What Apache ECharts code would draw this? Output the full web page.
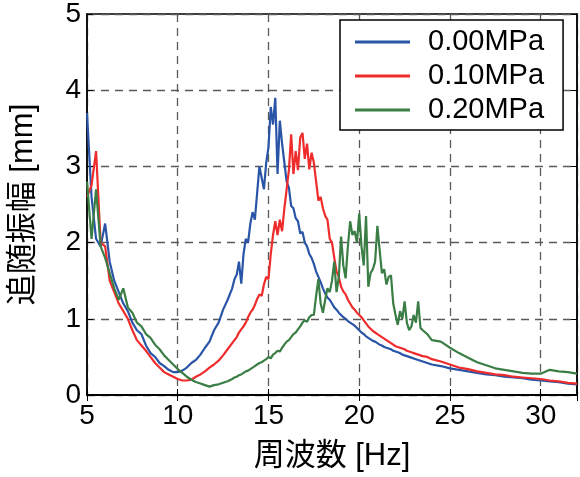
<!DOCTYPE html>
<html>
<head>
<meta charset="utf-8">
<script src="https://cdn.jsdelivr.net/npm/echarts@6/dist/echarts.min.js"></script>
<style>
  html, body { margin: 0; padding: 0; background: #fff; }
  #chart { width: 580px; height: 477px; }
</style>
</head>
<body>
<div id="chart"></div>
<script>
// 周波数 [Hz]
var freq = [
  5.00, 5.25, 5.50, 5.75, 6.00, 6.25, 6.50, 6.75,
  7.00, 7.25, 7.50, 7.75, 8.00, 8.25, 8.50, 8.75,
  9.00, 9.25, 9.50, 9.75, 10.00, 10.25, 10.50, 10.75,
  11.00, 11.25, 11.50, 11.75, 12.00, 12.25, 12.50, 12.75,
  13.000, 13.125, 13.250, 13.375, 13.500, 13.625, 13.750, 13.875,
  14.000, 14.125, 14.250, 14.375, 14.500, 14.625, 14.750, 14.875,
  15.000, 15.125, 15.250, 15.375, 15.500, 15.625, 15.750, 15.875,
  16.000, 16.125, 16.250, 16.375, 16.500, 16.625, 16.750, 16.875,
  17.000, 17.125, 17.250, 17.375, 17.500, 17.625, 17.750, 17.875,
  18.000, 18.125, 18.250, 18.375, 18.500, 18.625, 18.750, 18.875,
  19.000, 19.125, 19.250, 19.375, 19.500, 19.625, 19.750, 19.875,
  20.000, 20.125, 20.250, 20.375, 20.500, 20.625, 20.750, 20.875,
  21.000, 21.125, 21.250, 21.375, 21.500, 21.625, 21.750, 21.875,
  22.000, 22.125, 22.250, 22.375, 22.500, 22.625, 22.750, 22.875,
  23.000, 23.125, 23.250, 23.375, 23.500,
  23.75, 24.00,
  24.5, 25.0, 25.5, 26.0, 26.5, 27.0, 27.5, 28.0,
  28.5, 29.0, 29.5, 30.0, 30.5, 31.0, 31.5, 32.0
]
// 0.00MPa
var amp000 = [
  3.70, 2.60, 2.05, 1.95, 2.25, 1.75, 1.50, 1.35,
  1.20, 1.10, 0.95, 0.85, 0.80, 0.65, 0.55, 0.50,
  0.42, 0.38, 0.33, 0.30, 0.30, 0.32, 0.36, 0.42,
  0.46, 0.53, 0.62, 0.70, 0.85, 0.95, 1.12, 1.25,
  1.40, 1.52, 1.58, 1.75, 1.46, 1.85, 2.05, 2.00,
  2.25, 2.40, 2.30, 2.65, 3.00, 2.85, 2.70, 3.05,
  3.25, 3.78, 3.55, 3.90, 2.90, 3.60, 3.30, 3.05,
  2.80, 2.72, 2.48, 2.45, 2.32, 2.28, 2.12, 2.14,
  2.00, 1.95, 1.85, 1.80, 1.72, 1.62, 1.55, 1.48,
  1.40, 1.33, 1.28, 1.25, 1.20, 1.15, 1.12, 1.08,
  1.05, 1.02, 1.00, 0.97, 0.95, 0.93, 0.91, 0.88,
  0.85, 0.82, 0.80, 0.77, 0.75, 0.73, 0.71, 0.70,
  0.68, 0.66, 0.65, 0.63, 0.62, 0.61, 0.60, 0.58,
  0.57, 0.56, 0.55, 0.53, 0.52, 0.51, 0.50, 0.49,
  0.48, 0.47, 0.46, 0.45, 0.44,
  0.42, 0.40,
  0.38, 0.35, 0.33, 0.31, 0.29, 0.27, 0.26, 0.24,
  0.23, 0.22, 0.20, 0.19, 0.18, 0.17, 0.15, 0.14
]
// 0.10MPa
var amp010 = [
  2.60, 2.75, 3.20, 2.00, 1.95, 1.50, 1.35, 1.20,
  1.10, 1.00, 0.85, 0.72, 0.65, 0.58, 0.50, 0.42,
  0.36, 0.30, 0.27, 0.24, 0.21, 0.19, 0.19, 0.20,
  0.24, 0.27, 0.31, 0.36, 0.40, 0.45, 0.52, 0.60,
  0.68, 0.72, 0.76, 0.82, 0.86, 0.90, 0.95, 1.02,
  1.08, 1.12, 1.18, 1.26, 1.32, 1.30, 1.45, 1.55,
  1.52, 1.85, 2.10, 2.28, 2.10, 2.30, 2.15, 2.45,
  2.70, 2.95, 3.42, 2.90, 3.20, 2.95, 3.38, 3.44,
  3.10, 3.30, 2.96, 3.18, 3.05, 2.80, 2.55, 2.60,
  2.45, 2.35, 2.30, 2.05, 2.00, 1.80, 1.62, 1.55,
  1.42, 1.36, 1.32, 1.25, 1.20, 1.15, 1.12, 1.08,
  1.05, 1.02, 0.98, 0.94, 0.90, 0.87, 0.84, 0.82,
  0.80, 0.78, 0.76, 0.74, 0.72, 0.70, 0.68, 0.66,
  0.64, 0.63, 0.62, 0.61, 0.60, 0.58, 0.57, 0.56,
  0.55, 0.54, 0.53, 0.52, 0.51,
  0.50, 0.47,
  0.44, 0.40, 0.36, 0.34, 0.31, 0.29, 0.27, 0.26,
  0.24, 0.23, 0.22, 0.21, 0.19, 0.18, 0.16, 0.15
]
// 0.20MPa
var amp020 = [
  2.80, 2.05, 2.70, 1.95, 1.80, 1.60, 1.40, 1.25,
  1.40, 1.15, 1.08, 0.95, 0.90, 0.80, 0.75, 0.66,
  0.60, 0.52, 0.46, 0.40, 0.34, 0.29, 0.24, 0.20,
  0.17, 0.15, 0.13, 0.11, 0.13, 0.14, 0.16, 0.18,
  0.21, 0.23, 0.24, 0.26, 0.27, 0.29, 0.31, 0.32,
  0.34, 0.36, 0.38, 0.40, 0.42, 0.43, 0.45, 0.47,
  0.50, 0.48, 0.53, 0.55, 0.58, 0.57, 0.62, 0.66,
  0.70, 0.72, 0.76, 0.80, 0.82, 0.86, 0.90, 0.95,
  0.98, 0.96, 1.02, 1.05, 1.05, 1.30, 1.52, 1.20,
  1.08, 1.25, 1.40, 1.35, 1.50, 1.75, 1.35, 1.55,
  2.08, 1.70, 1.53, 1.95, 2.28, 2.10, 2.15, 2.00,
  2.38, 1.95, 1.70, 2.35, 1.42, 1.60, 1.65, 1.75,
  2.22, 1.90, 1.60, 1.65, 1.45, 1.55, 1.57, 1.20,
  1.05, 0.92, 1.10, 1.00, 1.23, 0.95, 0.85, 0.90,
  1.05, 0.95, 1.23, 0.88, 0.85,
  0.80, 0.72,
  0.70, 0.62, 0.55, 0.49, 0.43, 0.39, 0.35, 0.33,
  0.31, 0.29, 0.28, 0.28, 0.33, 0.31, 0.30, 0.28
]
var seriesNames = ['0.00MPa', '0.10MPa', '0.20MPa']
var seriesColors = ['#2a55a6', '#ef2c2c', '#3a7e45']
var xTicks = [5, 10, 15, 20, 25, 30]
var yTicks = [0, 1, 2, 3, 4, 5]

var chartInstance = echarts.init(document.getElementById('chart'))

function pairs (ys) {
  var out = []
  for (var i = 0; i < freq.length; i++) {
    out.push([freq[i], ys[i]])
  }
  return out
}

var fontFamily = '"Liberation Sans", Arial, "Noto Sans CJK JP", sans-serif'
var dashed = { show: true, lineStyle: { color: '#5a5a5a', type: [8, 6], width: 1.3 } }
var frameTick = { show: true, inside: true, length: 6, lineStyle: { color: '#000' } }

var option = {
  animation: false,
  textStyle: { fontFamily: fontFamily, color: '#000' },
  grid: {
    left: 87,
    right: 2,
    top: 13,
    bottom: 79,
    show: true,
    borderColor: '#000',
    borderWidth: 1.5
  },
  legend: {
    orient: 'vertical',
    left: 340,
    top: 20,
    padding: [7, 19, 5, 15],
    itemGap: 4,
    itemWidth: 55,
    itemHeight: 3,
    icon: 'rect',
    borderColor: '#000',
    borderWidth: 1.5,
    borderRadius: 0,
    backgroundColor: '#fff',
    textStyle: {
      fontSize: 29,
      lineHeight: 30,
      fontFamily: fontFamily,
      color: '#000',
      padding: [0, 0, 0, 13]
    },
    data: seriesNames
  },
  xAxis: [
    {
      type: 'value',
      min: 5,
      max: 32,
      interval: 5,
      name: '周波数 [Hz]',
      nameLocation: 'middle',
      nameGap: 46,
      nameTextStyle: { fontSize: 31, fontFamily: fontFamily, color: '#000' },
      axisLine: { show: true, lineStyle: { color: '#000', width: 1.5 } },
      axisTick: frameTick,
      axisLabel: {
        fontSize: 28,
        color: '#000',
        margin: 7,
        formatter: function (v) { return xTicks.indexOf(v) >= 0 ? String(v) : '' }
      },
      splitLine: dashed
    },
    {
      type: 'value',
      position: 'top',
      min: 5,
      max: 32,
      interval: 5,
      axisLine: { show: true, lineStyle: { color: '#000', width: 1.5 } },
      axisTick: frameTick,
      axisLabel: { show: false },
      splitLine: { show: false }
    }
  ],
  yAxis: [
    {
      type: 'value',
      min: 0,
      max: 5,
      interval: 1,
      name: '追随振幅 [mm]',
      nameLocation: 'middle',
      nameGap: 48,
      nameRotate: 90,
      nameTextStyle: { fontSize: 31, fontFamily: fontFamily, color: '#000' },
      axisLine: { show: true, lineStyle: { color: '#000', width: 1.5 } },
      axisTick: frameTick,
      axisLabel: {
        fontSize: 28,
        color: '#000',
        margin: 6,
        formatter: function (v) { return yTicks.indexOf(v) >= 0 ? String(v) : '' }
      },
      splitLine: dashed
    },
    {
      type: 'value',
      position: 'right',
      min: 0,
      max: 5,
      interval: 1,
      axisLine: { show: true, lineStyle: { color: '#000', width: 1.5 } },
      axisTick: frameTick,
      axisLabel: { show: false },
      splitLine: { show: false }
    }
  ],
  // later series drawn on top, like the original plot
  series: [amp000, amp010, amp020].map(function (ys, k) {
    return {
      name: seriesNames[k],
      type: 'line',
      data: pairs(ys),
      symbol: 'none',
      color: seriesColors[k],
      lineStyle: { color: seriesColors[k], width: 2.2 },
      z: 2 + k
    }
  })
}
chartInstance.setOption(option)
</script>
</body>
</html>
